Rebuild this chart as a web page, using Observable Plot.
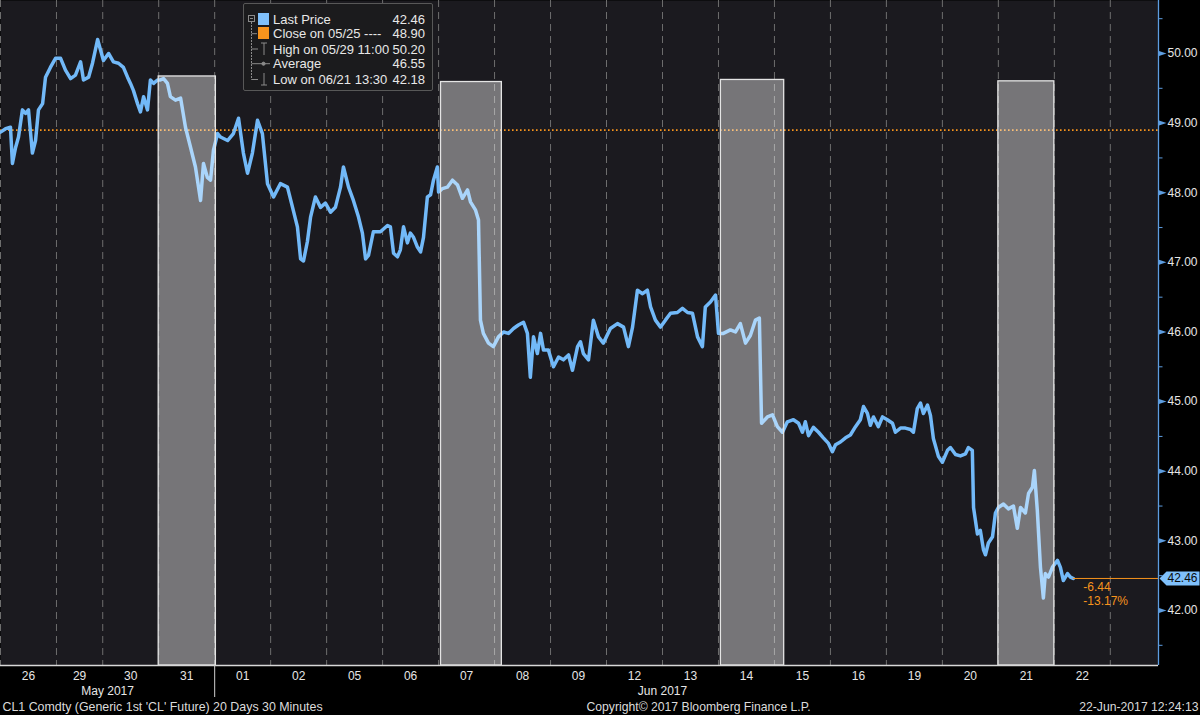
<!DOCTYPE html>
<html>
<head>
<meta charset="utf-8">
<script src="https://cdn.jsdelivr.net/npm/d3@7"></script>
<script src="https://cdn.jsdelivr.net/npm/@observablehq/plot@0.6"></script>
<style>
  html, body { margin: 0; padding: 0; background: #000; }
  #wrap { position: relative; width: 1200px; height: 715px; overflow: hidden; background: #000; }
  #legend { position: absolute; left: 243px; top: 3px; width: 188px; height: 86px;
    border: 1px solid #585858; border-radius: 2px; background: #1b1b1d;
    font: 13px "Liberation Sans", Arial, sans-serif; color: #e8e8e8; }
  #legend .row { position: absolute; left: 0; width: 188px; height: 15px; line-height: 15px; }
  #legend .lab { position: absolute; left: 29px; white-space: nowrap; }
  #legend .val { position: absolute; right: 7px; }
  #legend .sw { position: absolute; left: 14px; top: 1px; width: 11px; height: 12px; }
</style>
</head>
<body>
<div id="wrap"><div id="chart"></div><div id="legend"></div></div>
<script>
// ---- data ----
const dayLabels = ["26","29","30","31","01","02","05","06","07","08","09","12","13","14","15","16","19","20","21","22"];
const sessionHours = [23,19,23,23,23,23,23,23,23,23,23,23,23,23,23,23,23,23,23,23];
const monthLabels = ["May 2017", "Jun 2017"];
const monthFirstDay = [0, 4];
const monthLastDay = [3, 19];

// hours since start of window (trading time) and last price
const hours = [
  0,2.1,4.1,4.9,6.2,7.4,9.0,10.3,11.5,13.1,
  14.4,15.6,17.3,18.5,20.5,22.6,24.7,26.7,28.8,30.8,
  32.9,34.1,36.2,37.8,39.9,41.1,42.3,44.4,46.4,48.5,
  50.5,52.2,53.4,54.6,56.3,57.5,58.8,60.4,61.6,62.9,
  64.5,65.7,67.0,68.6,69.8,71.9,74.0,76.0,78.1,80.1,
  82.2,83.4,85.0,86.3,87.5,89.2,90.4,93.3,95.7,97.8,
  99.8,101.5,103.5,105.6,107.6,109.7,112.2,115.0,117.9,120.0,
  122.0,123.3,124.5,126.1,127.4,129.4,131.5,133.5,135.6,137.6,
  139.7,140.9,143.0,145.0,147.1,148.7,150.0,151.2,153.2,156.1,
  159.0,160.2,161.5,163.1,164.3,165.6,167.2,168.4,169.7,171.3,
  172.6,173.8,175.4,176.7,177.9,179.5,180.0,181.6,183.6,185.7,
  187.8,189.8,191.9,193.1,195.2,196.4,197.2,198.4,200.5,202.5,
  204.6,206.7,208.7,210.8,212.8,214.9,216.5,217.7,219.0,220.6,
  221.9,223.1,225.1,227.2,229.3,231.3,233.4,235.0,237.1,238.3,
  239.5,241.6,243.6,245.7,247.7,250.6,253.5,256.0,258.0,259.7,
  261.7,263.8,265.8,267.1,269.1,271.2,273.2,275.3,278.1,280.2,
  282.3,284.3,286.4,288.4,289.6,291.7,293.8,295.0,297.0,299.9,
  302.0,304.0,306.1,308.1,310.2,311.8,312.7,315.1,317.2,319.2,
  321.3,323.3,325.8,327.9,329.5,330.7,332.0,334.0,336.1,338.1,
  340.2,341.8,343.1,345.1,347.2,349.2,351.3,353.3,354.6,356.2,
  357.4,358.7,360.7,362.4,364.4,366.5,367.7,369.8,371.8,373.9,
  375.1,376.7,378.0,379.2,380.9,382.1,383.3,385.4,387.0,389.1,
  390.3,392.4,394.4,396.5,397.7,399.3,399.8,401.4,402.6,403.9,
  404.7,405.9,407.6,408.8,410.0,412.1,414.1,416.2,417.8,419.1,
  421.1,422.4,424.0,424.8,426.0,427.3,428.5,429.3,430.6,432.2,
  434.3,435.5,436.7,438.4,439.6,440.8
];
const price = [
  48.87,48.92,48.94,48.42,48.65,48.80,49.19,49.14,49.19,48.57,
  48.75,49.19,49.28,49.66,49.80,49.93,49.93,49.76,49.64,49.69,
  49.88,49.62,49.66,49.86,50.20,50.05,49.90,50.00,49.88,49.86,
  49.80,49.66,49.57,49.47,49.28,49.16,49.38,49.19,49.62,49.57,
  49.62,49.62,49.64,49.57,49.38,49.33,49.36,48.94,48.65,48.37,
  47.89,48.42,48.22,48.18,48.61,48.85,48.80,48.75,48.85,49.07,
  48.57,48.28,48.57,49.04,48.85,48.13,47.94,48.13,48.08,47.79,
  47.51,47.05,47.02,47.30,47.65,47.94,47.79,47.85,47.72,47.79,
  48.08,48.37,48.08,47.89,47.65,47.42,47.05,47.10,47.44,47.44,
  47.53,47.51,47.13,47.08,47.18,47.51,47.28,47.42,47.36,47.22,
  47.15,47.36,47.94,47.97,48.18,48.37,48.01,48.06,48.08,48.18,
  48.11,47.92,48.04,47.87,47.75,47.61,46.17,45.98,45.84,45.79,
  45.93,46.00,45.98,46.05,46.10,46.14,45.98,45.35,45.93,45.69,
  45.98,45.74,45.74,45.50,45.64,45.60,45.67,45.45,45.79,45.86,
  45.69,45.60,46.17,45.93,45.84,46.05,46.12,46.07,45.79,46.07,
  46.60,46.55,46.60,46.36,46.17,46.07,46.17,46.27,46.28,46.34,
  46.28,46.27,45.93,45.79,46.36,46.43,46.53,45.98,45.98,46.03,
  46.00,46.12,45.84,45.95,46.17,46.20,44.69,44.78,44.81,44.64,
  44.56,44.71,44.74,44.69,44.56,44.71,44.51,44.63,44.56,44.48,
  44.40,44.28,44.38,44.42,44.48,44.52,44.64,44.74,44.93,44.83,
  44.66,44.78,44.64,44.78,44.74,44.69,44.56,44.62,44.62,44.60,
  44.56,44.90,44.98,44.83,44.95,44.80,44.47,44.21,44.13,44.30,
  44.34,44.24,44.22,44.25,44.34,44.30,43.48,43.10,43.15,42.87,
  42.80,42.97,43.06,43.40,43.48,43.53,43.46,43.50,43.18,43.48,
  43.40,43.68,43.77,44.01,43.44,42.62,42.18,42.53,42.48,42.62,
  42.72,42.62,42.43,42.53,42.48,42.46
];

// highlighted sessions (grey bars)
const eventStart = [65, 181, 296, 410];
const eventEnd = [88.5, 206, 322, 433];
const eventTop = [49.67, 49.59, 49.62, 49.60];

const closeRef = 48.90;
const lastPrice = 42.46;
const netChange = "-6.44";
const pctChange = "-13.17%";

const yMajor = [42, 43, 44, 45, 46, 47, 48, 49, 50];
const yMinor = [41.5, 42.5, 43.5, 44.5, 45.5, 46.5, 47.5, 48.5, 49.5, 50.5];

const legendLabels = ["Last Price", "Close on 05/25 ----", "High on 05/29 11:00", "Average", "Low on 06/21 13:30"];
const legendValues = ["42.46", "48.90", "50.20", "46.55", "42.18"];

const footerLeft = "CL1 Comdty (Generic 1st 'CL' Future) 20 Days 30 Minutes";
const footerMid = "Copyright\u00A9 2017 Bloomberg Finance L.P.";
const footerRight = "22-Jun-2017 12:24:13";

// ---- derived ----
if (hours.length !== price.length) throw new Error("length mismatch " + hours.length + " " + price.length);
const series = hours.map((h, i) => ({h, p: price[i]}));
const bounds = [0, ...d3.cumsum(sessionHours)];
const days = dayLabels.map((lab, i) => ({lab, c: (bounds[i] + bounds[i + 1]) / 2}));
const months = monthLabels.map((lab, i) => ({lab, c: (bounds[monthFirstDay[i]] + bounds[monthLastDay[i] + 1]) / 2}));
const events = eventStart.map((s, i) => ({s, e: eventEnd[i], t: eventTop[i]}));
const lastHour = hours[hours.length - 1];
const xMax = 475.8;
const yDom = [41.21, 50.761];

const BLUE = "#72b9f8";
const ORANGE = "#f7941d";
const AXISBLUE = "#5d9de0";

const triRight = {draw(ctx) { ctx.moveTo(0, -2.5); ctx.lineTo(7.5, 0); ctx.lineTo(0, 2.5); ctx.closePath(); }};
const tagShape = {draw(ctx) { ctx.moveTo(1, 0); ctx.lineTo(8, -7); ctx.lineTo(41, -7); ctx.lineTo(41, 7); ctx.lineTo(8, 7); ctx.closePath(); }};

const chart = Plot.plot({
  width: 1200,
  height: 715,
  marginLeft: 0,
  marginRight: 42,
  marginTop: 0,
  marginBottom: 50,
  style: {background: "#000", color: "#e6e6e6", fontFamily: "'Liberation Sans', Arial, sans-serif", fontSize: "12px"},
  x: {domain: [0, xMax]},
  y: {domain: yDom},
  marks: [
    Plot.frame({fill: "#1b1a1f", stroke: "none"}),
    Plot.ruleX(bounds, {stroke: "#6e6e6e", strokeDasharray: "7,5", strokeWidth: 1}),
    Plot.ruleY([closeRef], {stroke: ORANGE, strokeDasharray: "1.6,2.4", strokeWidth: 1.7}),
    Plot.line(series, {x: "h", y: "p", stroke: BLUE, strokeWidth: 3.5, strokeLinejoin: "round", strokeLinecap: "round"}),
    Plot.rect(events, {x1: "s", x2: "e", y1: yDom[0], y2: "t", fill: "#ffffff", fillOpacity: 0.4, stroke: "#e4e4e4", strokeWidth: 1.3}),
    Plot.ruleY([lastPrice], {x1: lastHour, x2: xMax, stroke: ORANGE, strokeWidth: 1}),
    Plot.text([netChange], {x: lastHour, y: lastPrice, dx: 10, dy: 9, textAnchor: "start", fill: ORANGE, fontSize: 12}),
    Plot.text([pctChange], {x: lastHour, y: lastPrice, dx: 10, dy: 23, textAnchor: "start", fill: ORANGE, fontSize: 12}),
    Plot.ruleY([yDom[0]], {stroke: "#d8d8d8", strokeWidth: 1.5}),
    Plot.ruleX([xMax], {stroke: AXISBLUE, strokeWidth: 1.3}),
    Plot.axisY({anchor: "right", ticks: yMinor, tickSize: 3.5, tickFormat: () => "", stroke: AXISBLUE}),
    Plot.axisY({anchor: "right", ticks: yMajor, tickSize: 0, tickPadding: 9, tickFormat: d3.format(".2f"), fill: "#e6e6e6", fontSize: 12}),
    Plot.dot(yMajor, {x: xMax, y: d => d, symbol: triRight, fill: AXISBLUE, stroke: "none", dx: 0.5}),
    Plot.dot([lastPrice], {x: xMax, y: d => d, symbol: tagShape, fill: "#7fc0fb", stroke: "none"}),
    Plot.text([lastPrice], {x: xMax, y: d => d, text: d => d.toFixed(2), dx: 9, textAnchor: "start", fill: "#0a0a0a", fontSize: 12}),
    Plot.axisX({ticks: [bounds[4]], tickSize: 32, tickFormat: () => "", stroke: "#d0d0d0"}),
    Plot.text(days, {x: "c", text: "lab", frameAnchor: "bottom", dy: 11, lineAnchor: "middle", fill: "#e6e6e6", fontSize: 12}),
    Plot.text(months, {x: "c", text: "lab", frameAnchor: "bottom", dy: 26, lineAnchor: "middle", fill: "#e6e6e6", fontSize: 12}),
    Plot.text([footerLeft], {frameAnchor: "bottom-left", dx: 2, dy: 42, lineAnchor: "middle", textAnchor: "start", fill: "#dcdcdc", fontSize: 12.4}),
    Plot.text([footerMid], {frameAnchor: "bottom-left", dx: 586, dy: 42, lineAnchor: "middle", textAnchor: "start", fill: "#dcdcdc", fontSize: 12.2}),
    Plot.text([footerRight], {frameAnchor: "bottom-right", dx: 40, dy: 42, lineAnchor: "middle", textAnchor: "end", fill: "#dcdcdc", fontSize: 12.2})
  ]
});
document.getElementById("chart").appendChild(chart);

// ---- legend (HTML overlay) ----
const legend = document.getElementById("legend");
const rowCenters = [15, 29.7, 45, 59.7, 75];
const treeSvg = `<svg width="30" height="86" style="position:absolute;left:0;top:0" stroke="#8a8a8a" fill="none" stroke-width="1">
  <rect x="4.5" y="11.5" width="6" height="6"/><line x1="6" y1="14.5" x2="9" y2="14.5"/>
  <line x1="7.5" y1="18" x2="7.5" y2="75.5" stroke-dasharray="2,1"/>
  <line x1="7.5" y1="29.7" x2="13" y2="29.7"/>
  <line x1="7.5" y1="45" x2="14" y2="45"/><line x1="20" y1="39" x2="20" y2="51"/><line x1="17" y1="39" x2="23" y2="39"/>
  <line x1="7.5" y1="59.7" x2="26" y2="59.7"/><circle cx="19.5" cy="59.7" r="1.6" fill="#8a8a8a"/>
  <line x1="7.5" y1="75.5" x2="14" y2="75.5"/><line x1="20" y1="69" x2="20" y2="81"/><line x1="17" y1="81" x2="23" y2="81"/>
</svg>`;
let html = treeSvg;
legendLabels.forEach((lab, i) => {
  const sw = i === 0 ? `<span class="sw" style="background:#7fc0fb"></span>` : i === 1 ? `<span class="sw" style="background:${ORANGE}"></span>` : "";
  html += `<div class="row" style="top:${rowCenters[i] - 7.5}px">${sw}<span class="lab">${lab}</span><span class="val">${legendValues[i]}</span></div>`;
});
legend.innerHTML = html;
</script>
</body>
</html>
